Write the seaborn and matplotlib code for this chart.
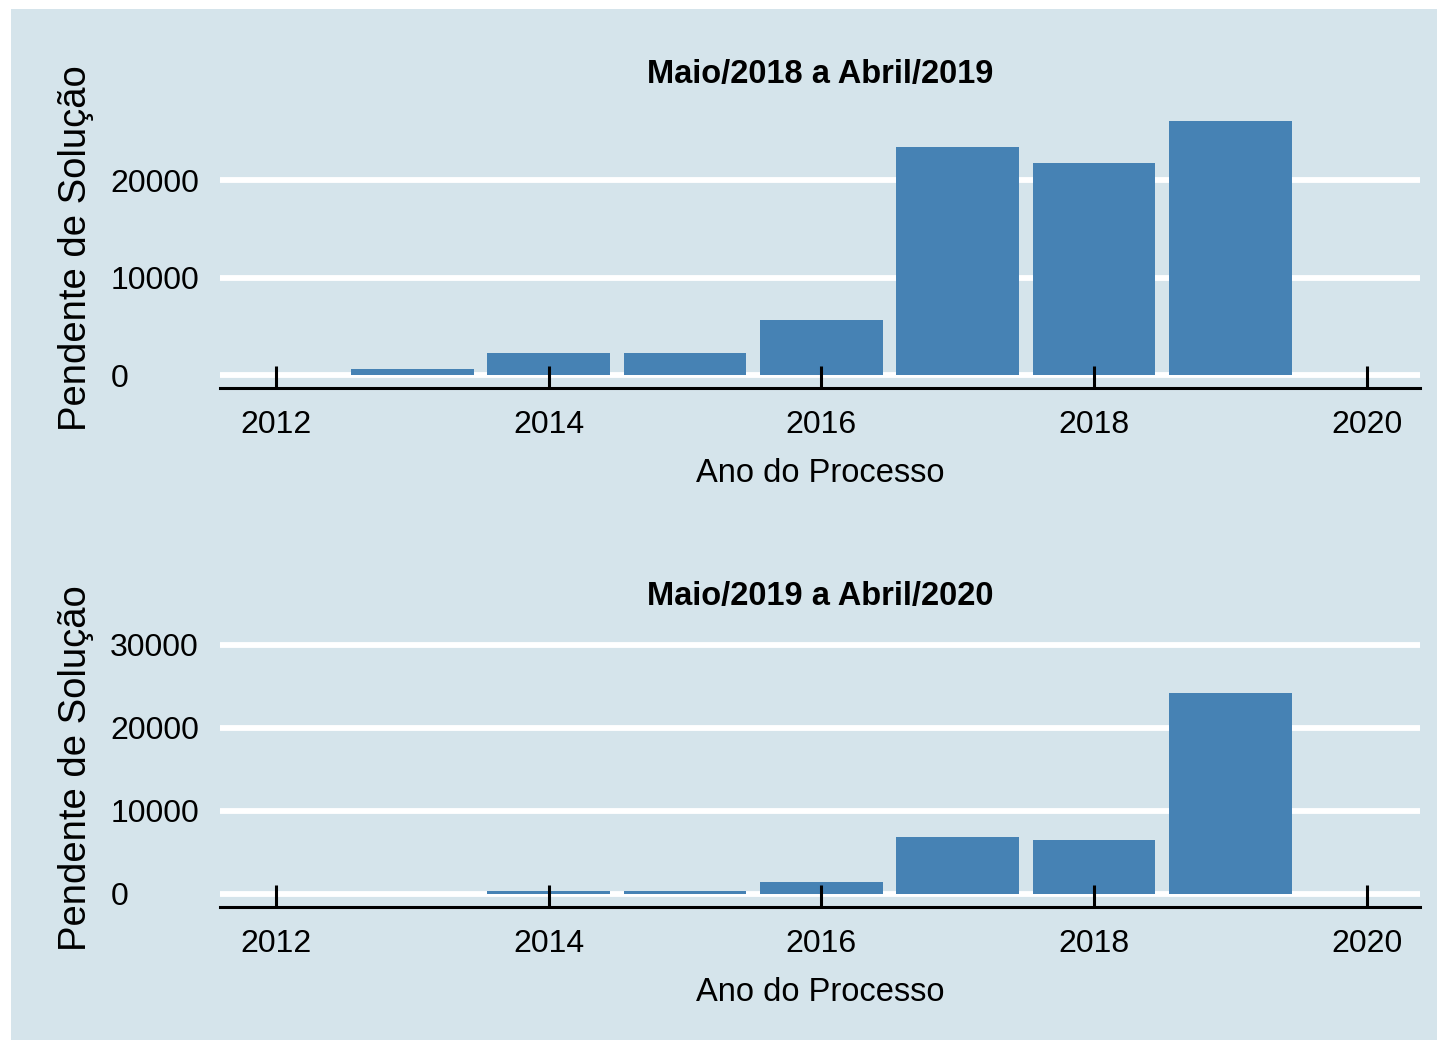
import matplotlib
matplotlib.use("Agg")
import matplotlib.pyplot as plt
import seaborn as sns
import pandas as pd
from matplotlib.patches import Rectangle

# dados
anos = [2013, 2014, 2015, 2016, 2017, 2018, 2019]
pend_2019 = [650, 2250, 2250, 5600, 23400, 21800, 26100]
pend_2020 = [30, 350, 350, 1450, 6900, 6500, 24200]
titulos = ["Maio/2018 a Abril/2019", "Maio/2019 a Abril/2020"]
xticks = [2012, 2014, 2016, 2018, 2020]
yticks_1 = [0, 10000, 20000]
yticks_2 = [0, 10000, 20000, 30000]

bg = "#d5e4eb"
cor_barra = "#4682B4"

sns.set_style("white")
plt.rcParams["font.family"] = ["Liberation Sans", "DejaVu Sans"]
plt.rcParams["text.color"] = "black"
plt.rcParams["axes.labelcolor"] = "black"
plt.rcParams["xtick.color"] = "black"
plt.rcParams["ytick.color"] = "black"

fig = plt.figure(figsize=(14.37, 10.40), dpi=100)
fig.patch.set_facecolor("white")
fig.patches.append(Rectangle((11 / 1437, 0), 1 - 11 / 1437, 1 - 9 / 1040,
                             transform=fig.transFigure, facecolor=bg,
                             edgecolor="none", zorder=-10))

ax1 = fig.add_axes([220 / 1437, 1 - 388 / 1040, 1200 / 1437, 280 / 1040])
ax2 = fig.add_axes([220 / 1437, 1 - 907 / 1040, 1200 / 1437, 277 / 1040])

paineis = [
    (ax1, pend_2019, titulos[0], yticks_1, (-1330, 27400)),
    (ax2, pend_2020, titulos[1], yticks_2, (-1570, 31800)),
]

for ax, valores, titulo, yt, ylim in paineis:
    df = pd.DataFrame({"ano": anos, "pendente": valores})
    sns.barplot(data=df, x="ano", y="pendente", native_scale=True,
                color=cor_barra, saturation=1, width=0.9, linewidth=0,
                ax=ax)
    ax.patch.set_visible(False)
    ax.set_xlim(2011.59, 2020.39)
    ax.set_ylim(*ylim)
    ax.set_xticks(xticks)
    ax.set_yticks(yt)
    ax.set_axisbelow(True)
    ax.xaxis.set_zorder(3)
    ax.yaxis.grid(True, color="white", linewidth=4.2)
    ax.xaxis.grid(False)
    for s in ["top", "right", "left"]:
        ax.spines[s].set_visible(False)
    ax.spines["bottom"].set_linewidth(2.2)
    ax.spines["bottom"].set_color("black")
    ax.tick_params(axis="x", direction="in", length=16, width=2.2,
                   color="black", labelcolor="black", labelsize=23,
                   pad=16, bottom=True)
    ax.tick_params(axis="y", length=0, labelsize=23, pad=79,
                   labelcolor="black")
    for lbl in ax.get_yticklabels():
        lbl.set_horizontalalignment("left")
    ax.set_xlabel("Ano do Processo", fontsize=23.5, labelpad=13,
                  color="black")
    ax.set_ylabel("Pendente de Solução", fontsize=27.5, color="black")
    ax.yaxis.set_label_coords(-0.105, 0.5)
    ax.set_title(titulo, fontsize=23.5, fontweight="bold", pad=18,
                 color="black")

fig.savefig("out.png", dpi=100, facecolor="white")
